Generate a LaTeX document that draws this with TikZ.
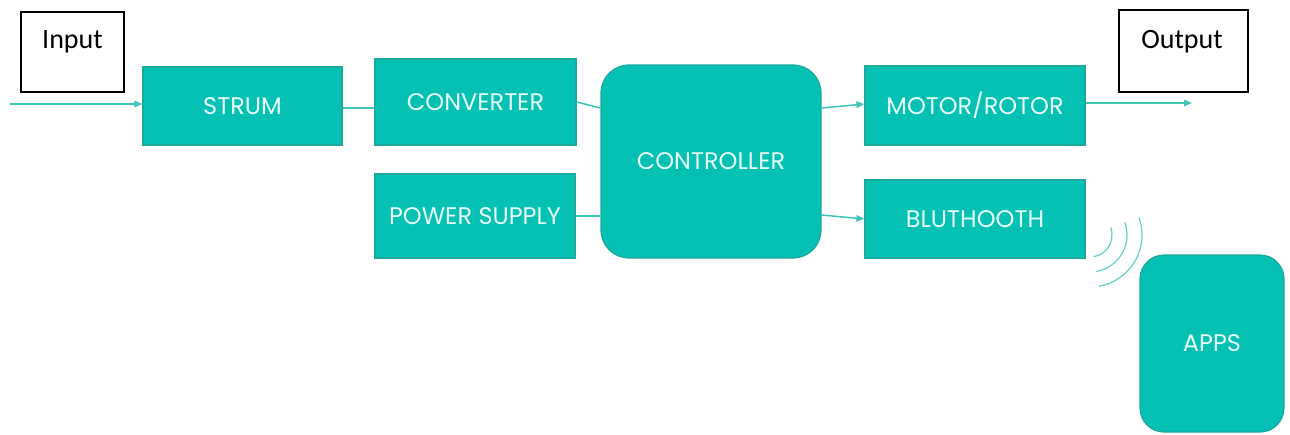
\documentclass[tikz,border=0pt]{standalone}
\usepackage{fontspec}
\setmainfont{Poppins}
\newfontfamily\iofont{Carlito}
\usepackage{xcolor}
\definecolor{teal1}{HTML}{05C1B4}
\definecolor{tealedge}{HTML}{1AA99D}
\definecolor{teallink}{HTML}{3CC6BA}
\definecolor{tealtext}{HTML}{E6FFFB}
\usepackage{tikz}
\usetikzlibrary{positioning,calc,arrows.meta}

\begin{document}
\begin{tikzpicture}[x=0.5pt,y=0.5pt,font=\fontsize{12}{14}\selectfont,
  block/.style={fill=teal1,draw=tealedge,line width=0.6pt,text=tealtext,inner sep=1pt},
  rblock/.style={block,rounded corners=14pt},
  iobox/.style={draw=black,line width=0.7pt,fill=white},
  iotext/.style={font=\iofont\fontsize{14}{16}\selectfont,inner sep=0pt},
  link/.style={teallink,line width=0.75pt},
  flow/.style={link,-{Triangle[length=4pt,width=3.2pt]}},
  wave/.style={teallink!80,line width=0.6pt}]
  \useasboundingbox (0,0) rectangle (1290,-434);
  % input / output
  \node[iobox,minimum width=51.5pt,minimum height=40pt] (inp) at (72.5,-52) {};
  \node[iotext] (inptxt) at (72.5,-42) {Input};
  \node[iobox,minimum width=64.5pt,minimum height=41pt] (out) at (1183.5,-51) {};
  \node[iotext] (outtxt) at (1182,-42) {Output};
  % blocks
  \node[block,minimum width=99.5pt,minimum height=39pt] (strum) at (242.5,-106) {STRUM};
  \node[block,minimum width=100.5pt,minimum height=43pt] (conv) at (475.5,-102) {CONVERTER};
  \node[block,minimum width=100pt,minimum height=42pt] (power) at (475,-216) {POWER SUPPLY};
  \node[rblock,minimum width=110pt,minimum height=96.5pt] (ctrl) at (711,-161.5) {CONTROLLER};
  \node[block,minimum width=110pt,minimum height=39.5pt] (motor) at (975,-105.5) {MOTOR/ROTOR};
  \node[block,minimum width=110pt,minimum height=39pt] (blue) at (975,-219) {BLUTHOOTH};
  \node[rblock,rounded corners=12pt,minimum width=72pt,minimum height=88.5pt] (apps) at (1212,-343.5) {APPS};
  % connectors
  \coordinate (start) at (10,-104);
  \coordinate (end) at (1192,-103);
  \draw[flow] (start) -- (start -| strum.west);
  \draw[link] ([yshift=-1pt]strum.east) -- ([yshift=-1pt]strum.east -| conv.west);
  \draw[link] (conv.east) -- ([yshift=26.75pt]ctrl.west);
  \draw[link] (power.east) -- (power.east -| ctrl.west);
  \draw[flow] ([yshift=26.75pt]ctrl.east) -- ([yshift=0.75pt]motor.west);
  \draw[flow] ([yshift=-26.75pt]ctrl.east) -- (blue.west);
  \draw[flow] ([yshift=1.25pt]motor.east) -- (end);
  % wireless
  \coordinate (sig) at (1090,-235);
  \foreach \r in {11pt,18.5pt,26pt}
    \draw[wave] (sig) ++(20:\r) arc[start angle=20,end angle=-80,radius=\r];
\end{tikzpicture}
\end{document}
